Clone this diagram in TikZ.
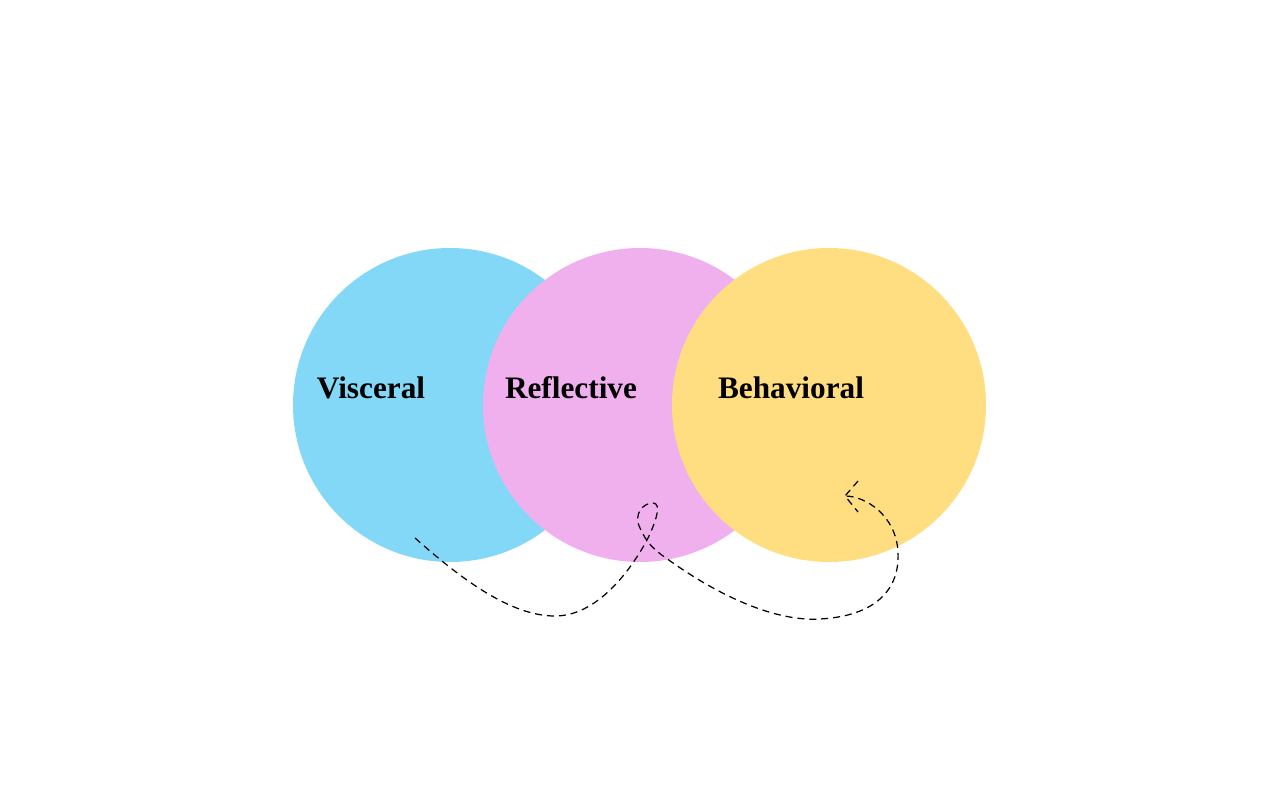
\documentclass[tikz,border=0pt]{standalone}
\usepackage{fontspec}
\setmainfont{Liberation Serif}
\usepackage{xcolor}
\usetikzlibrary{arrows.meta, positioning}

\definecolor{visblue}{HTML}{84D8F7}
\definecolor{refpink}{HTML}{F0B0EE}
\definecolor{behyellow}{HTML}{FFDE82}

\begin{document}
\begin{tikzpicture}[
    level/.style={circle, minimum size=3.14cm, inner sep=0pt},
    levelname/.style={font=\fontsize{8.9}{10}\selectfont\bfseries, inner sep=0pt},
    flow/.style={dashed, dash pattern=on 2pt off 1.4pt, line width=0.35pt, black}
  ]
  \useasboundingbox (0,0) rectangle (12.8,8);

  % the three levels
  \node[level, fill=visblue] (V) at (4.50,3.95) {};
  \node[level, fill=refpink] (R) at (6.40,3.95) {};
  \node[level, fill=behyellow] (B) at (8.29,3.95) {};

  \node[levelname] (Vt) at (3.71,4.12) {Visceral};
  \node[levelname] (Rt) at (5.71,4.12) {Reflective};
  \node[levelname] (Bt) at (7.91,4.12) {Behavioral};

  % the loop
  \coordinate (start) at (4.15,2.62);
  \coordinate (tip) at (8.45,3.04);
  \draw[flow] (start) .. controls (4.60,2.22) and (5.10,1.84) .. (5.55,1.84)
    .. controls (5.95,1.84) and (6.28,2.25) .. (6.47,2.60)
    .. controls (6.56,2.78) and (6.62,2.97) .. (6.53,2.97)
    .. controls (6.43,2.97) and (6.33,2.86) .. (6.40,2.72)
    .. controls (6.46,2.58) and (6.54,2.50) .. (6.66,2.42)
    .. controls (7.10,2.10) and (7.70,1.78) .. (8.20,1.81)
    .. controls (8.75,1.84) and (9.00,2.10) .. (8.98,2.48)
    .. controls (8.96,2.85) and (8.65,3.04) .. (tip);
  \draw[flow] (8.58,3.19) -- (tip) -- (8.58,2.88);
\end{tikzpicture}
\end{document}
